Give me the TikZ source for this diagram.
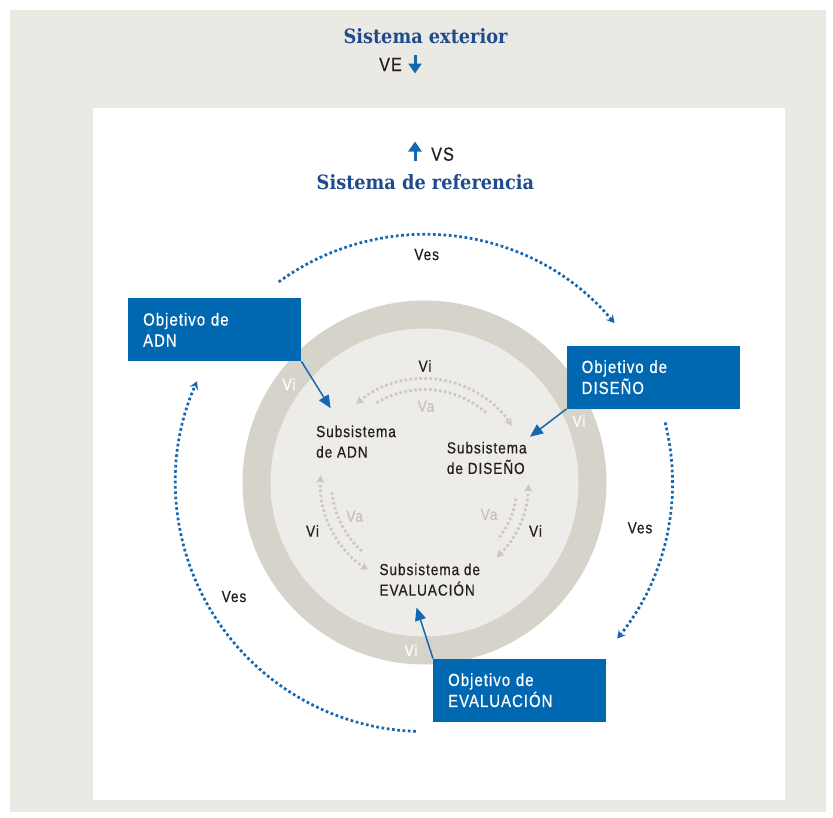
\documentclass[tikz,border=0pt]{standalone}
\usepackage{fontspec}
\usepackage{tikz}
\usetikzlibrary{arrows.meta}
\setmainfont{Liberation Sans}
\newfontfamily\labelfont{Liberation Sans}[FakeStretch=0.85,LetterSpace=6,FakeBold=0.6]
\newfontfamily\headfont{DejaVu Serif}[FakeStretch=0.9]
\definecolor{panelgray}{HTML}{EAE9E4}
\definecolor{ringgray}{HTML}{D6D3CA}
\definecolor{diskgray}{HTML}{EDECE8}
\definecolor{dotgray}{HTML}{CCC9BF}
\definecolor{vagray}{HTML}{C6C3B9}
\definecolor{objblue}{HTML}{0067B1}
\definecolor{arrowblue}{HTML}{1467B0}
\definecolor{titleblue}{HTML}{1F4A8C}
\definecolor{textdark}{HTML}{231F20}

\begin{document}
\begin{tikzpicture}[x=1pt,y=1pt,yscale=-1,
  lbl/.style={font={\labelfont\fontsize{16}{20.5}\selectfont},text=textdark,inner sep=0pt},
  headlbl/.style={font={\headfont\bfseries\fontsize{19.7}{22}\selectfont},text=titleblue,inner sep=0pt},
  objbox/.style={fill=objblue,text=white,anchor=north west,minimum width=173pt,minimum height=63pt,
    inner xsep=15pt,inner ysep=0pt,text width=143pt,align=left,font={\labelfont\fontsize{17.5}{21}\selectfont}},
  objarrow/.style={draw=arrowblue,line width=1.5pt,-{Triangle[length=13pt,width=11pt]}},
  smallarrow/.style={draw=arrowblue,line width=3pt,-{Triangle[length=10pt,width=13pt]}},
  vesarc/.style={draw=arrowblue,line width=2.7pt,dash pattern=on 2.7pt off 2.6pt,-{Stealth[length=8pt,width=9pt,inset=3pt]}},
  grayarc/.style={draw=dotgray,line width=2.8pt,dash pattern=on 2.5pt off 2.5pt},
  graytip/.style={{Stealth[length=8pt,width=9pt,inset=3pt]}-{Stealth[length=8pt,width=9pt,inset=3pt]}}]
\useasboundingbox (0,0) rectangle (833,817);

%Shape: Rectangle [outer gray]
\fill[white] (0,0) rectangle (833,817);
\fill[panelgray] (10,10) rectangle (826,812);
%Shape: Rectangle [white panel]
\fill[white] (93,108) rectangle (785,800);

%Shape: Circle [ring and disk]
\coordinate (cc) at (424.5,482.5);
\fill[ringgray] (cc) circle[radius=182];
\fill[diskgray] (cc) circle[radius=154];

%Shape: Arc [inner pairs, Vi / Va]
\draw[grayarc,graytip] (cc) ++(-131:104) arc[start angle=-131,end angle=-33,radius=104];
\draw[grayarc] (cc) ++(-121:93) arc[start angle=-121,end angle=-48,radius=93];
\draw[grayarc,graytip] (cc) ++(-176:104) arc[start angle=-176,end angle=-237,radius=104];
\draw[grayarc] (cc) ++(-186:93) arc[start angle=-186,end angle=-228,radius=93];
\draw[grayarc,graytip] (cc) ++(1:104) arc[start angle=1,end angle=46,radius=104];
\draw[grayarc] (cc) ++(10:93) arc[start angle=10,end angle=38,radius=93];

%Shape: Arc [outer Ves]
\draw[vesarc] (cc) ++(-126:248) arc[start angle=-126,end angle=-40,radius=248];
\draw[vesarc] (cc) ++(-14:248) arc[start angle=-14,end angle=39,radius=248];
\draw[vesarc] (cc) ++(-268:249) arc[start angle=-268,end angle=-156,radius=249];

%Shape: Rectangle [objective boxes]
\node[objbox] (objadn) at (128,298) {Objetivo de\\ADN};
\node[objbox] (objdis) at (566.5,345.5) {Objetivo de\\DISEÑO};
\node[objbox] (objeva) at (433,658.5) {Objetivo de\\EVALUACIÓN};

%Shape: Arrow [box to subsystem]
\coordinate (tipadn) at (330.7,408.3);
\coordinate (tipdis) at (530,436.7);
\coordinate (tipeva) at (416.5,607.5);
\draw[objarrow] (objadn.south east) -- (tipadn);
\draw[objarrow] (objdis.south west) -- (tipdis);
\draw[objarrow] (objeva.north west) -- (tipeva);

%Shape: Arrow [VE and VS]
\coordinate (vetop) at (415,55);
\coordinate (vetip) at (415,73.5);
\coordinate (vsbot) at (415,160.5);
\coordinate (vstip) at (415,141.5);
\draw[smallarrow] (vetop) -- (vetip);
\draw[smallarrow] (vsbot) -- (vstip);

% Text Node
\draw (425.5,43.3) node (exterior) [headlbl,anchor=base] {Sistema exterior};
% Text Node
\draw (425.4,189) node (referencia) [headlbl,anchor=base] {Sistema de referencia};
% Text Node
\draw (379,71) node (ve) [lbl,anchor=base west,font={\labelfont\fontsize{19}{20}\selectfont}] {VE};
% Text Node
\draw (431,160.7) node (vs) [lbl,anchor=base west,font={\labelfont\fontsize{19}{20}\selectfont}] {VS};

% Text Node
\draw (316,425.3) node (subadn) [lbl,anchor=north west,align=left] {Subsistema\\de ADN};
% Text Node
\draw (446.7,441.6) node (subdis) [lbl,anchor=north west,align=left] {Subsistema\\de DISEÑO};
% Text Node
\draw (379.3,563.3) node (subeva) [lbl,anchor=north west,align=left] {Subsistema de\\EVALUACIÓN};

% Text Node
\draw (425,371.7) node (vitop) [lbl,anchor=base] {Vi};
% Text Node
\draw (426,411.7) node (vatop) [lbl,anchor=base,text=vagray] {Va};
% Text Node
\draw (312.5,536.7) node (vileft) [lbl,anchor=base] {Vi};
% Text Node
\draw (354.7,521.7) node (valeft) [lbl,anchor=base,text=vagray] {Va};
% Text Node
\draw (535.5,536.7) node (viright) [lbl,anchor=base] {Vi};
% Text Node
\draw (489,520) node (varight) [lbl,anchor=base,text=vagray] {Va};
% Text Node
\draw (289,390) node (viringa) [lbl,anchor=base,text=white] {Vi};
% Text Node
\draw (579,426.7) node (viringb) [lbl,anchor=base,text=white] {Vi};
% Text Node
\draw (411,656) node (viringc) [lbl,anchor=base,text=white] {Vi};

% Text Node
\draw (426.7,260) node (vestop) [lbl,anchor=base] {Ves};
% Text Node
\draw (640,533.3) node (vesright) [lbl,anchor=base] {Ves};
% Text Node
\draw (234,602) node (vesleft) [lbl,anchor=base] {Ves};

\end{tikzpicture}
\end{document}
